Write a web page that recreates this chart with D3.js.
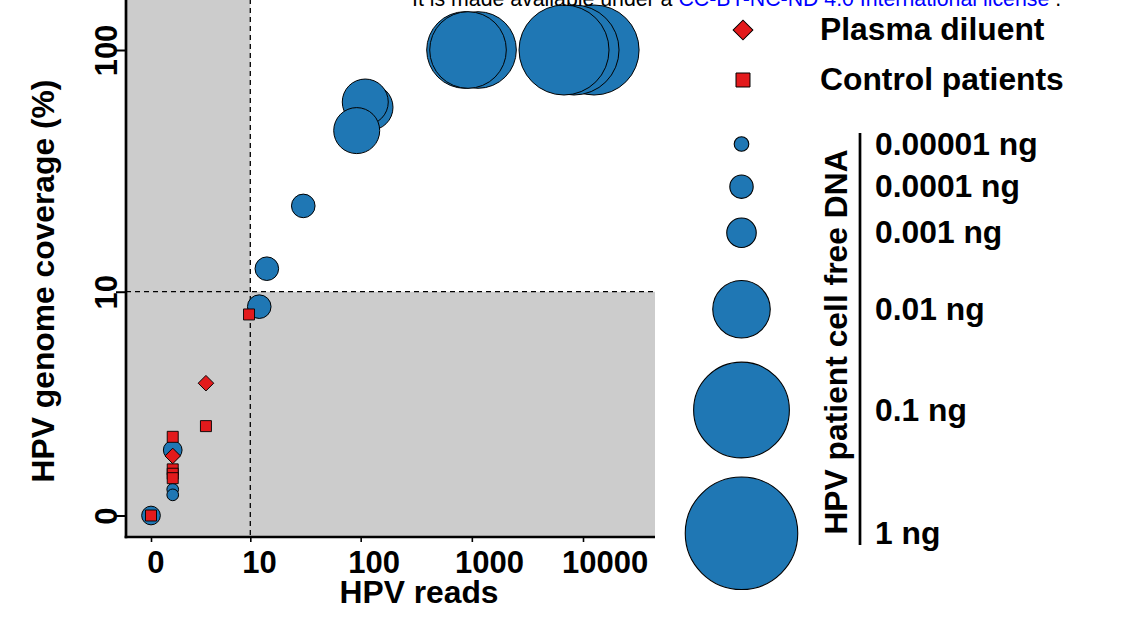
<!DOCTYPE html>
<html>
<head>
<meta charset="utf-8">
<script src="https://cdn.jsdelivr.net/npm/d3@7"></script>
<style>
  html, body { margin: 0; padding: 0; background: #ffffff; }
  svg { display: block; }
  text { font-family: "Liberation Sans", Arial, sans-serif; }
</style>
</head>
<body>
<svg id="chart" width="1122" height="617"></svg>
<script>
// ---- data ----
const readTicks = [0, 10, 100, 1000, 10000];
const readTickLabels = ["0", "10", "100", "1000", "10000"];
const coverageTicks = [0, 10, 100];
const coverageTickLabels = ["0", "10", "100"];

const dnaAmounts = [0.00001, 0.0001, 0.001, 0.01, 0.1, 1];
const dnaLabels = ["0.00001 ng", "0.0001 ng", "0.001 ng", "0.01 ng", "0.1 ng", "1 ng"];

// HPV patient cell-free DNA dilution series
const patientReads    = [1137, 868, 924, 12580, 8304, 6750, 121.3, 110, 92.1, 30.4, 14.2, 12.1, 1.21, 1.21, 1.21, 0];
const patientCoverage = [100, 100, 100, 100, 100, 100, 58.1, 61.1, 46.6, 22.8, 12.5, 8.64, 1.61, 0.61, 0.48, 0];
const patientDNA      = [0.1, 0.1, 0.1, 1, 1, 1, 0.01, 0.01, 0.01, 0.001, 0.001, 0.001, 0.0001, 0.00001, 0.00001, 0.0001];

// Control patients
const controlReads    = [0, 1.21, 1.21, 1.21, 1.21, 3.64, 9.73];
const controlCoverage = [0, 1.99, 1.10, 0.99, 0.88, 2.32, 8.0];

// Plasma diluent
const diluentReads    = [3.64, 1.21];
const diluentCoverage = [3.92, 1.45];

// ---- layout ----
const panel = { left: 126, right: 655, top: -10, bottom: 537 };
const blue = "#1f77b4", red = "#e31a1c", gray = "#cccccc";
const boldFont = 31.8;
const tickFont = 31;

const svg = d3.select("#chart");

// pseudo-log (asinh) transforms for both axes
const pseudoLog = sigma => v => Math.asinh(v / (2 * sigma));
const tx = pseudoLog(1.3), ty = pseudoLog(1.22);

const xT = d3.scaleLinear().domain([tx(0), tx(10000)]).range([151, 583]);
const yT = d3.scaleLinear().domain([ty(0), ty(100)]).range([515.5, 50]);
const x = v => xT(tx(v));
const y = v => yT(ty(v));

// bubble radius per DNA input; legend keys are drawn 1.25x larger
const rScale = d3.scaleOrdinal().domain(dnaAmounts).range([5.85, 9.35, 11.8, 23, 38.3, 45]);
const legendScale = 1.25;
const markerSide = 11;

// ---- panel background: shaded below-threshold zones ----
const x10 = x(10), y10 = y(10);
svg.append("rect")
  .attr("x", panel.left).attr("y", panel.top)
  .attr("width", x10 - panel.left).attr("height", panel.bottom - panel.top)
  .attr("fill", gray);
svg.append("rect")
  .attr("x", panel.left).attr("y", y10)
  .attr("width", panel.right - panel.left).attr("height", panel.bottom - y10)
  .attr("fill", gray);

// threshold dashed lines
svg.append("line")
  .attr("x1", x10).attr("x2", x10).attr("y1", panel.top).attr("y2", panel.bottom)
  .attr("stroke", "#000").attr("stroke-width", 1.3).attr("stroke-dasharray", "5,4");
svg.append("line")
  .attr("x1", panel.left).attr("x2", panel.right).attr("y1", y10).attr("y2", y10)
  .attr("stroke", "#000").attr("stroke-width", 1.3).attr("stroke-dasharray", "5,4");

// ---- points ----
const pts = patientReads.map((r, i) => ({ r, c: patientCoverage[i], dna: patientDNA[i] }));
svg.append("g").selectAll("circle").data(pts).join("circle")
  .attr("cx", d => x(d.r)).attr("cy", d => y(d.c))
  .attr("r", d => rScale(d.dna))
  .attr("fill", blue).attr("stroke", "#000").attr("stroke-width", 1);

const squarePath = d3.symbol().type(d3.symbolSquare).size(markerSide * markerSide);
svg.append("g").selectAll("path")
  .data(controlReads.map((r, i) => ({ r, c: controlCoverage[i] })))
  .join("path")
  .attr("d", squarePath)
  .attr("transform", d => `translate(${x(d.r)},${y(d.c)})`)
  .attr("fill", red).attr("stroke", "#000").attr("stroke-width", 0.9);

svg.append("g").selectAll("path")
  .data(diluentReads.map((r, i) => ({ r, c: diluentCoverage[i] })))
  .join("path")
  .attr("d", squarePath)
  .attr("transform", d => `translate(${x(d.r)},${y(d.c)}) rotate(45)`)
  .attr("fill", red).attr("stroke", "#000").attr("stroke-width", 0.9);

// ---- axes ----
const xAxis = svg.append("g")
  .attr("transform", `translate(0,${panel.bottom})`)
  .call(d3.axisBottom(xT)
    .tickValues(readTicks.map(tx))
    .tickFormat((d, i) => readTickLabels[i])
    .tickSize(5).tickPadding(9));
xAxis.select(".domain").remove();
xAxis.selectAll(".tick line").attr("stroke", "#000").attr("stroke-width", 1.6);
xAxis.selectAll(".tick text")
  .attr("fill", "#000").attr("font-size", tickFont).attr("font-weight", "bold")
  .attr("font-family", "'Liberation Sans', Arial, sans-serif")
  .attr("text-anchor", "start")
  .attr("x", function () { return -0.25 * this.getComputedTextLength(); });

const yAxis = svg.append("g")
  .attr("transform", `translate(${panel.left},0)`)
  .call(d3.axisLeft(yT)
    .tickValues(coverageTicks.map(ty))
    .tickFormat((d, i) => coverageTickLabels[i])
    .tickSize(10));
yAxis.select(".domain").remove();
yAxis.selectAll(".tick line").attr("stroke", "#000").attr("stroke-width", 2);
yAxis.selectAll(".tick text")
  .attr("x", 0).attr("y", -9).attr("dy", 0)
  .attr("transform", "rotate(-90)")
  .attr("text-anchor", "middle")
  .attr("fill", "#000").attr("font-size", tickFont).attr("font-weight", "bold")
  .attr("font-family", "'Liberation Sans', Arial, sans-serif");

// axis lines
svg.append("line")
  .attr("x1", panel.left).attr("x2", panel.left).attr("y1", panel.top).attr("y2", panel.bottom + 1.35)
  .attr("stroke", "#000").attr("stroke-width", 2.7);
svg.append("line")
  .attr("x1", panel.left - 1.35).attr("x2", panel.right).attr("y1", panel.bottom).attr("y2", panel.bottom)
  .attr("stroke", "#000").attr("stroke-width", 2.7);

// axis titles
svg.append("text")
  .attr("x", 419).attr("y", 603)
  .attr("text-anchor", "middle")
  .attr("font-size", boldFont).attr("font-weight", "bold")
  .text("HPV reads");
svg.append("text")
  .attr("transform", "translate(54,281) rotate(-90)")
  .attr("text-anchor", "middle")
  .attr("font-size", boldFont).attr("font-weight", "bold")
  .text("HPV genome coverage (%)");

// ---- legend: sample types ----
const legendX = 743;
svg.append("path")
  .attr("d", d3.symbol().type(d3.symbolSquare).size(Math.pow(markerSide * 1.27, 2)))
  .attr("transform", `translate(${legendX},30) rotate(45)`)
  .attr("fill", red).attr("stroke", "#000").attr("stroke-width", 1);
svg.append("path")
  .attr("d", d3.symbol().type(d3.symbolSquare).size(Math.pow(markerSide * 1.27, 2)))
  .attr("transform", `translate(${legendX},80)`)
  .attr("fill", red).attr("stroke", "#000").attr("stroke-width", 1);
svg.append("text").attr("x", 820).attr("y", 40)
  .attr("font-size", boldFont).attr("font-weight", "bold").text("Plasma diluent");
svg.append("text").attr("x", 820).attr("y", 90)
  .attr("font-size", boldFont).attr("font-weight", "bold").text("Control patients");

// ---- legend: DNA input sizes ----
const sizeKeyY = [144, 186.7, 232.7, 309.3, 410, 533.3];
const sizeKeys = svg.append("g").selectAll("g")
  .data(dnaAmounts.map((a, i) => ({ a, label: dnaLabels[i], cy: sizeKeyY[i] })))
  .join("g");
sizeKeys.append("circle")
  .attr("cx", 741.5).attr("cy", d => d.cy)
  .attr("r", d => rScale(d.a) * legendScale)
  .attr("fill", blue).attr("stroke", "#000").attr("stroke-width", 1.1);
sizeKeys.append("text")
  .attr("x", 875).attr("y", d => d.cy + 10.5)
  .attr("font-size", boldFont).attr("font-weight", "bold")
  .text(d => d.label);

svg.append("line")
  .attr("x1", 860).attr("x2", 860).attr("y1", 133).attr("y2", 545)
  .attr("stroke", "#000").attr("stroke-width", 2.7);
svg.append("text")
  .attr("transform", "translate(847,342) rotate(-90)")
  .attr("text-anchor", "middle")
  .attr("font-size", boldFont).attr("font-weight", "bold")
  .text("HPV patient cell free DNA");

// ---- licence line ----
const lic = svg.append("text").attr("x", 412).attr("y", 6).attr("font-size", 21.3);
lic.append("tspan").attr("fill", "#000").text("It is made available under a ");
lic.append("tspan").attr("fill", "#0000ff").text("CC-BY-NC-ND 4.0 International license");
lic.append("tspan").attr("fill", "#000").text(" .");
</script>
</body>
</html>
